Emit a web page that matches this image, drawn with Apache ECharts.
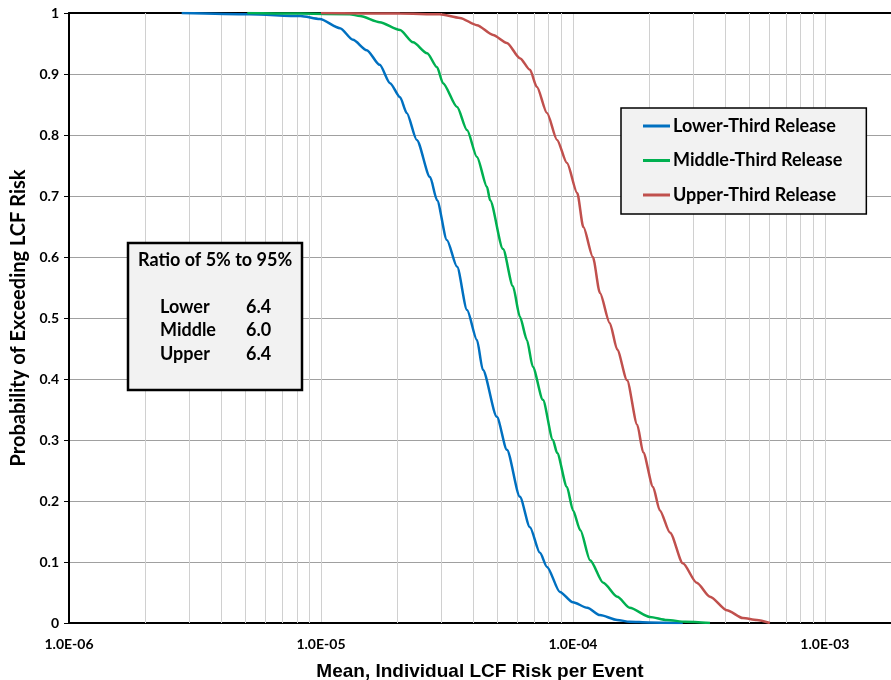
<!DOCTYPE html>
<html>
<head>
<meta charset="utf-8">
<script src="https://cdn.jsdelivr.net/npm/echarts@6/dist/echarts.min.js"></script>
<style>html,body{margin:0;padding:0;background:#fff;}#chart{width:891px;height:680px;}</style>
</head>
<body>
<div id="chart"></div>
<script>
// ---- Data ----
const seriesNames = ['Lower-Third Release', 'Middle-Third Release', 'Upper-Third Release'];

const lowerX = [2.8e-6, 5.2e-6, 8.3e-6, 9.9e-6, 1.19e-5, 1.34e-5, 1.52e-5, 1.71e-5, 1.88e-5, 2.06e-5, 2.19e-5, 2.40e-5, 2.71e-5, 2.89e-5, 3.16e-5, 3.47e-5, 3.80e-5, 4.16e-5, 4.39e-5, 4.99e-5, 5.47e-5, 6.16e-5, 6.75e-5, 7.40e-5, 7.89e-5, 8.88e-5, 1.0e-4, 1.14e-4, 1.28e-4, 1.50e-4, 1.68e-4, 2.0e-4, 2.73e-4];
const lowerP = [1.0, 0.998, 0.995, 0.990, 0.975, 0.956, 0.939, 0.915, 0.885, 0.862, 0.836, 0.792, 0.731, 0.693, 0.628, 0.584, 0.513, 0.464, 0.415, 0.338, 0.284, 0.207, 0.157, 0.115, 0.092, 0.051, 0.034, 0.025, 0.013, 0.005, 0.002, 0.001, 0.0];

const middleX = [5.1e-6, 8.3e-6, 1.30e-5, 1.43e-5, 1.71e-5, 2.06e-5, 2.32e-5, 2.64e-5, 2.89e-5, 3.05e-5, 3.47e-5, 3.80e-5, 4.16e-5, 4.56e-5, 4.69e-5, 5.28e-5, 5.78e-5, 6.16e-5, 6.57e-5, 6.93e-5, 7.60e-5, 8.33e-5, 8.65e-5, 9.47e-5, 1.0e-4, 1.07e-4, 1.17e-4, 1.32e-4, 1.50e-4, 1.68e-4, 2.02e-4, 2.36e-4, 2.8e-4, 3.5e-4];
const middleP = [1.0, 0.999, 0.998, 0.995, 0.985, 0.972, 0.952, 0.934, 0.911, 0.885, 0.846, 0.808, 0.764, 0.715, 0.693, 0.613, 0.552, 0.502, 0.464, 0.420, 0.366, 0.300, 0.279, 0.223, 0.185, 0.152, 0.103, 0.066, 0.043, 0.025, 0.010, 0.005, 0.002, 0.0];

const upperX = [1.0e-5, 2.06e-5, 2.96e-5, 3.56e-5, 4.16e-5, 4.82e-5, 5.47e-5, 6.16e-5, 6.75e-5, 7.19e-5, 7.89e-5, 8.65e-5, 9.47e-5, 1.04e-4, 1.10e-4, 1.20e-4, 1.28e-4, 1.40e-4, 1.50e-4, 1.64e-4, 1.80e-4, 1.90e-4, 2.08e-4, 2.21e-4, 2.43e-4, 2.73e-4, 3.10e-4, 3.50e-4, 4.08e-4, 4.73e-4, 5.37e-4, 6.05e-4];
const upperP = [1.0, 0.999, 0.998, 0.992, 0.980, 0.964, 0.951, 0.926, 0.907, 0.879, 0.836, 0.792, 0.754, 0.705, 0.649, 0.600, 0.541, 0.492, 0.448, 0.398, 0.325, 0.280, 0.223, 0.185, 0.148, 0.098, 0.066, 0.043, 0.021, 0.008, 0.005, 0.0];

const xTickValues = [1e-6, 1e-5, 1e-4, 1e-3];
const xTickLabels = ['1.0E-06', '1.0E-05', '1.0E-04', '1.0E-03'];
const minorGridValues = [
  2e-6, 3e-6, 4e-6, 5e-6, 6e-6, 7e-6, 8e-6, 9e-6,
  2e-5, 3e-5, 4e-5, 5e-5, 6e-5, 7e-5, 8e-5, 9e-5,
  2e-4, 3e-4, 4e-4, 5e-4, 6e-4, 7e-4, 8e-4, 9e-4
];

const ratioTitle = 'Ratio of 5% to 95%';
const ratioLabels = ['Lower', 'Middle', 'Upper'];
const ratioValues = ['6.4', '6.0', '6.4'];

const xAxisName = 'Mean, Individual LCF Risk per Event';
const yAxisName = 'Probability of Exceeding LCF Risk';

// ---- Chart ----
const colors = ['#0070C0', '#00B050', '#C0504D'];
const pair = (xs, ys) => xs.map((x, i) => [x, ys[i]]);
const xMin = 1e-6, xMax = 1.83e-3;

const chart = echarts.init(document.getElementById('chart'), null, {renderer: 'canvas'});
const labelFont = 'Lato, "Open Sans", sans-serif';
const boxFont = 'bold 18px Lato, "Open Sans", sans-serif';

function xLabel(v) {
  for (let i = 0; i < xTickValues.length; i++) {
    if (Math.abs(Math.log10(v) - Math.log10(xTickValues[i])) < 1e-6) return xTickLabels[i];
  }
  return '';
}

const graphics = [{
  type: 'rect', z: 100,
  shape: {x: 128, y: 243, width: 174, height: 147},
  style: {fill: '#F2F2F2', stroke: '#000', lineWidth: 2.5}
}, {
  type: 'text', z: 101, x: 138, y: 260,
  style: {text: ratioTitle, font: boxFont, fill: '#000', verticalAlign: 'middle', align: 'left'}
}];
ratioLabels.forEach((l, i) => {
  graphics.push({type: 'text', z: 101, x: 160, y: 307 + i * 23.5,
    style: {text: l, font: boxFont, fill: '#000', verticalAlign: 'middle', align: 'left'}});
  graphics.push({type: 'text', z: 101, x: 246, y: 307 + i * 23.5,
    style: {text: ratioValues[i], font: boxFont, fill: '#000', verticalAlign: 'middle', align: 'left'}});
});

const lineSeries = (idx, xs, ys) => ({
  type: 'line', name: seriesNames[idx], data: pair(xs, ys), showSymbol: false, symbol: 'none',
  smooth: 0.25, smoothMonotone: 'x',
  lineStyle: {width: 2.5, color: colors[idx]}, itemStyle: {color: colors[idx]}, z: 3 + idx
});

const option = {
  animation: false,
  backgroundColor: '#fff',
  color: colors,
  grid: {left: 69, top: 13, right: 0, bottom: 57, containLabel: false, outerBoundsMode: 'none'},
  legend: {
    data: seriesNames,
    orient: 'vertical',
    left: 621, top: 108,
    backgroundColor: '#F2F2F2',
    borderColor: '#000', borderWidth: 1.5,
    padding: [8, 24, 9, 22],
    itemWidth: 27, itemHeight: 3,
    itemGap: 14.5,
    icon: 'rect',
    textStyle: {fontFamily: labelFont, fontWeight: 'bold', fontSize: 18, color: '#000', lineHeight: 20, padding: [0, 0, 0, -2]},
    selectedMode: false
  },
  xAxis: [{
    type: 'log', logBase: 10, min: xMin, max: xMax,
    name: xAxisName, nameLocation: 'middle', nameGap: 39,
    nameTextStyle: {fontFamily: '"Liberation Sans", Arial, sans-serif', fontWeight: 'bold', fontSize: 19, color: '#000'},
    axisLine: {show: true, lineStyle: {color: '#000', width: 2}},
    axisTick: {show: false},
    axisLabel: {formatter: xLabel, showMaxLabel: false, fontFamily: labelFont, fontWeight: 'bold', fontSize: 14, color: '#000', margin: 14},
    splitLine: {show: true, lineStyle: {color: '#D0D0D0', width: 1}},
    minorTick: {show: false}, minorSplitLine: {show: false}
  }, {
    type: 'log', logBase: 10, min: xMin, max: xMax, position: 'top',
    axisLine: {show: true, lineStyle: {color: '#000', width: 2}},
    axisTick: {show: false}, axisLabel: {show: false}, splitLine: {show: false}
  }],
  yAxis: {
    type: 'value', min: 0, max: 1, interval: 0.1,
    name: yAxisName, nameLocation: 'middle', nameGap: 37,
    nameTextStyle: {fontFamily: labelFont, fontWeight: 'bold', fontSize: 20, color: '#000'},
    axisLine: {show: true, lineStyle: {color: '#000', width: 2}},
    axisTick: {show: true, length: 5, lineStyle: {color: '#000', width: 1}},
    axisLabel: {fontFamily: labelFont, fontWeight: 'bold', fontSize: 14, color: '#000', margin: 10},
    splitLine: {show: true, lineStyle: {color: '#A0A0A0', width: 1}}
  },
  graphic: graphics,
  series: [{
    type: 'custom', name: '_minorGrid', silent: true, z: 1,
    data: minorGridValues.map(v => [v]),
    encode: {x: 0},
    clip: true,
    renderItem: function (params, api) {
      const v = api.value(0);
      const p0 = api.coord([v, 0]);
      const p1 = api.coord([v, 1]);
      return {
        type: 'line', silent: true,
        shape: {x1: Math.round(p0[0]) + 0.5, y1: p0[1], x2: Math.round(p1[0]) + 0.5, y2: p1[1]},
        style: {stroke: '#D0D0D0', lineWidth: 1}
      };
    }
  },
  lineSeries(0, lowerX, lowerP),
  lineSeries(1, middleX, middleP),
  lineSeries(2, upperX, upperP)]
};
chart.setOption(option);
</script>
</body>
</html>
